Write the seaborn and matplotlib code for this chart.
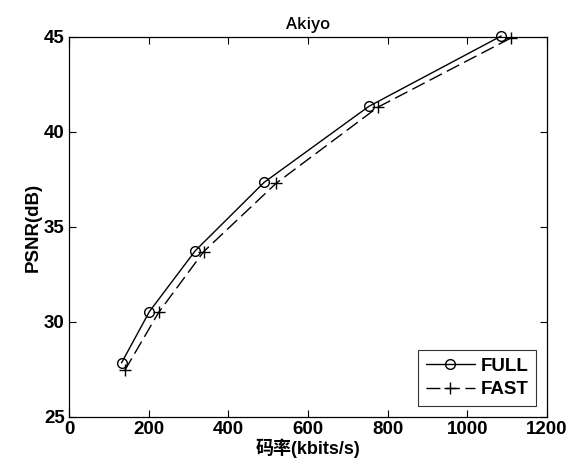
import matplotlib
matplotlib.use("Agg")
import matplotlib.pyplot as plt
import seaborn as sns
import pandas as pd

# Rate-distortion points for the Akiyo sequence
full_rate = [132, 202, 317, 490, 753, 1085]
full_psnr = [27.85, 30.55, 33.75, 37.35, 41.35, 45.05]
fast_rate = [140, 225, 338, 520, 775, 1110]
fast_psnr = [27.45, 30.5, 33.7, 37.3, 41.3, 44.95]

x_ticks = [0, 200, 400, 600, 800, 1000, 1200]
y_ticks = [25, 30, 35, 40, 45]

sns.set_theme(style="white")
plt.rcParams["font.family"] = ["Liberation Sans", "Noto Sans CJK SC", "DejaVu Sans"]
plt.rcParams.update({"text.color": "black", "axes.labelcolor": "black",
                     "xtick.color": "black", "ytick.color": "black"})

df = pd.concat([
    pd.DataFrame({"rate": full_rate, "psnr": full_psnr, "mode": "FULL"}),
    pd.DataFrame({"rate": fast_rate, "psnr": fast_psnr, "mode": "FAST"}),
], ignore_index=True)

fig = plt.figure(figsize=(5.73, 4.74), dpi=100)
ax = fig.add_axes([0.1204, 0.1203, 0.8342, 0.8017])

sns.lineplot(data=df[df["mode"] == "FULL"], x="rate", y="psnr", ax=ax,
             color="black", lw=1.0, marker="o", markersize=7,
             markerfacecolor="none", markeredgecolor="black", markeredgewidth=1.0,
             label="FULL", sort=False, clip_on=False)
sns.lineplot(data=df[df["mode"] == "FAST"], x="rate", y="psnr", ax=ax,
             color="black", lw=1.0, marker="+", markersize=9,
             markeredgecolor="black", markeredgewidth=1.0,
             dashes=(10, 4), label="FAST", sort=False, clip_on=False)

ax.set_xlim(0, 1200)
ax.set_ylim(25, 45)
ax.set_xticks(x_ticks)
ax.set_yticks(y_ticks)
ax.set_xticklabels([str(t) for t in x_ticks], fontsize=13.5, fontweight="bold")
ax.set_yticklabels([str(t) for t in y_ticks], fontsize=13.5, fontweight="bold")
ax.tick_params(direction="in", length=5, width=0.8, top=True, right=True,
               bottom=True, left=True, pad=3)

for s in ax.spines.values():
    s.set_color("black")
    s.set_linewidth(0.9)

ax.set_xlabel("码率(kbits/s)", fontsize=13, fontweight="bold", labelpad=0,
              family=["Liberation Sans", "Noto Sans CJK SC"])
ax.set_ylabel("PSNR(dB)", fontsize=13.5, fontweight="bold", labelpad=2)
ax.set_title("Akiyo", fontsize=12, fontweight="semibold", pad=6,
             family=["Open Sans", "DejaVu Sans"])

leg = ax.legend(loc="lower right", fontsize=13.5, frameon=True, fancybox=False,
                edgecolor="black", handlelength=2.6, borderaxespad=0.6,
                handletextpad=0.3, labelspacing=0.35, borderpad=0.4)
leg.get_frame().set_linewidth(0.8)
for t in leg.get_texts():
    t.set_fontweight("bold")

fig.savefig("out.png", dpi=100, facecolor="white")
